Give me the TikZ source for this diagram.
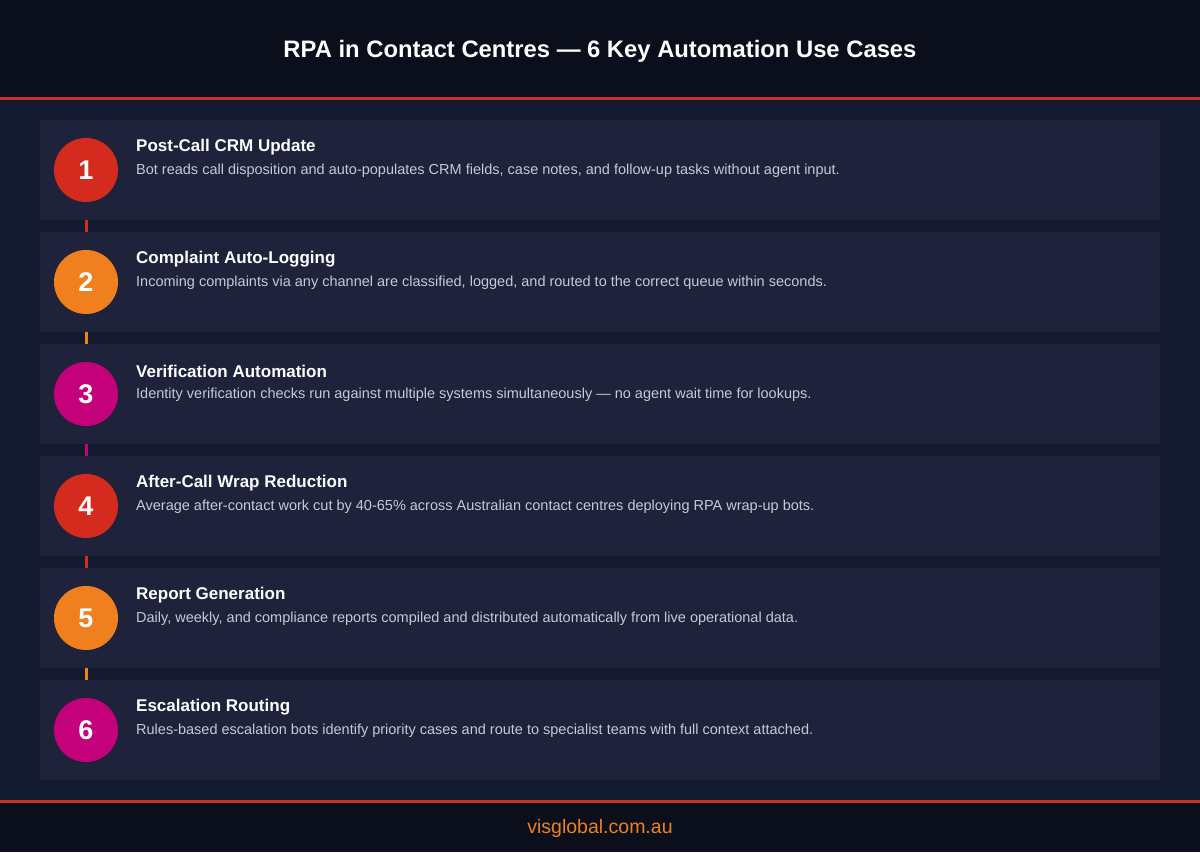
\documentclass[tikz,border=0pt]{standalone}
\usepackage{fontspec}
\setmainfont{Liberation Sans}
\definecolor{hdr}{HTML}{0B0F1C}
\definecolor{bodybg}{HTML}{141A2E}
\definecolor{card}{HTML}{1E223A}
\definecolor{redl}{HTML}{C8302A}
\definecolor{cred}{HTML}{D52B1E}
\definecolor{corange}{HTML}{F07F1E}
\definecolor{cmag}{HTML}{C4007A}
\definecolor{desc}{HTML}{C5C9D8}
\begin{document}
\begin{tikzpicture}[x=1pt,y=-1pt,
  num/.style={circle,minimum size=64pt,inner sep=0pt,text=white,font=\bfseries\fontsize{27}{27}\selectfont},
  ttl/.style={anchor=west,text=white,font=\bfseries\fontsize{17}{20}\selectfont,inner sep=0pt},
  dsc/.style={anchor=west,text=desc,font=\fontsize{14.5}{17}\selectfont,inner sep=0pt},
  link/.style={line width=3pt}]
\useasboundingbox (0,0) rectangle (1200,852);
\fill[bodybg] (0,0) rectangle (1200,852);
\fill[hdr] (0,0) rectangle (1200,98);
\fill[redl] (0,97) rectangle (1200,100);
\node[text=white,font=\bfseries\fontsize{23.8}{28}\selectfont] (title) at (600,51) {RPA in Contact Centres — 6 Key Automation Use Cases};
\fill[hdr] (0,801) rectangle (1200,852);
\fill[redl] (0,800) rectangle (1200,803);
\node[text=corange,font=\fontsize{19.5}{23}\selectfont] (foot) at (600,828) {visglobal.com.au};
\foreach \i in {1,...,6}{
  \pgfmathsetmacro\yy{120+(\i-1)*112}
  \coordinate (c\i) at (86,\yy+50);
}
\foreach \a/\b/\c in {1/2/cred,2/3/corange,3/4/cmag,4/5/cred,5/6/corange}{
  \draw[link,\c] (c\a) -- (c\b);
}
\foreach \i/\c/\t/\d in {
 1/cred/{Post-Call CRM Update}/{Bot reads call disposition and auto-populates CRM fields, case notes, and follow-up tasks without agent input.},
 2/corange/{Complaint Auto-Logging}/{Incoming complaints via any channel are classified, logged, and routed to the correct queue within seconds.},
 3/cmag/{Verification Automation}/{Identity verification checks run against multiple systems simultaneously — no agent wait time for lookups.},
 4/cred/{After-Call Wrap Reduction}/{Average after-contact work cut by 40-65\% across Australian contact centres deploying RPA wrap-up bots.},
 5/corange/{Report Generation}/{Daily, weekly, and compliance reports compiled and distributed automatically from live operational data.},
 6/cmag/{Escalation Routing}/{Rules-based escalation bots identify priority cases and route to specialist teams with full context attached.}}{
  \pgfmathsetmacro\yy{120+(\i-1)*112}
  \fill[card] (40,\yy) rectangle (1160,\yy+100);
  \node[num,fill=\c] (n\i) at (c\i) {\i};
  \node[ttl] (t\i) at (136,\yy+27) {\t};
  \node[dsc] (d\i) at (136,\yy+51) {\d};
}
\end{tikzpicture}
\end{document}
